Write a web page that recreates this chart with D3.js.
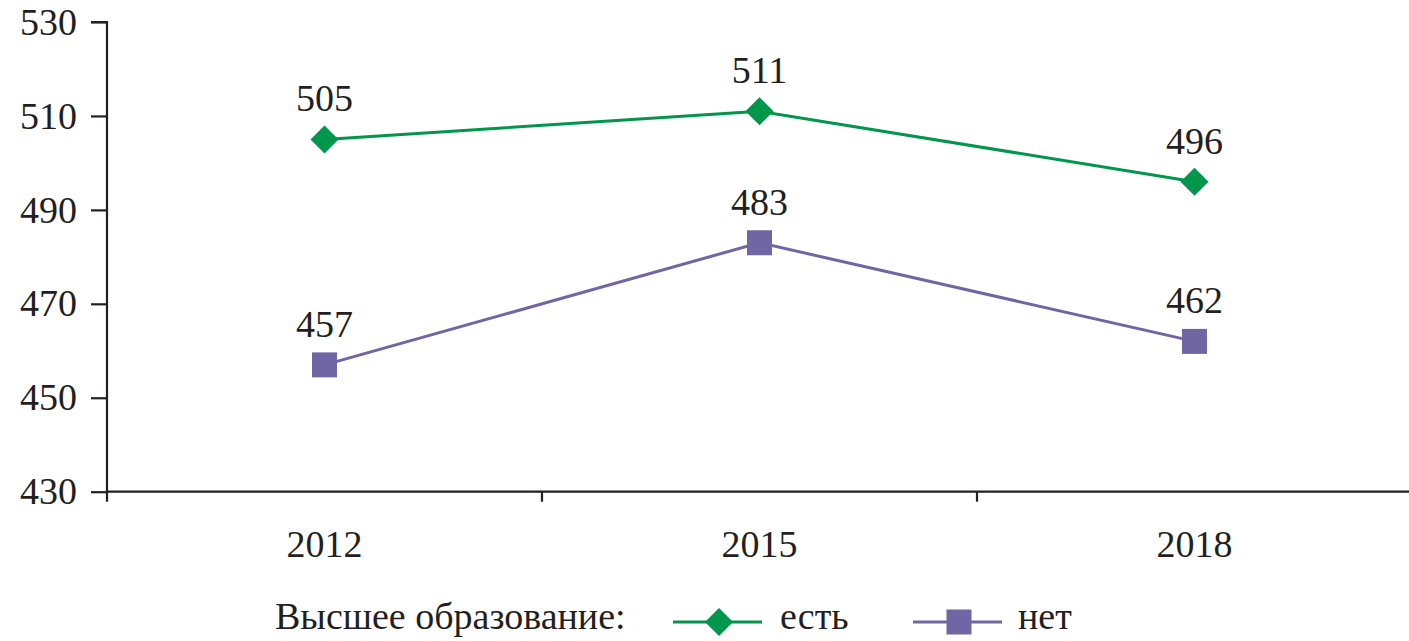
<!DOCTYPE html>
<html><head><meta charset="utf-8">
<script src="https://cdn.jsdelivr.net/npm/d3@7"></script>
<style>
html,body{margin:0;padding:0;background:#fff;}
svg text{font-family:"Liberation Serif","Times New Roman",Times,"DejaVu Serif","Noto Serif",serif !important;}
</style></head>
<body><svg id="c" width="1409" height="641"></svg>
<script>
const categories = ["2012", "2015", "2018"];
const seriesNames = ["есть", "нет"];
const valuesYes = [505, 511, 496];
const valuesNo = [457, 483, 462];
const yTicks = [430, 450, 470, 490, 510, 530];
const legendTitle = "Высшее образование:";

const svg = d3.select("#c");
const ink = "#231f20";
const green = "#00964b";
const purple = "#6f66a3";
const FS = "38px";

const x = d3.scaleBand().domain(categories).range([107, 1412]).paddingInner(0).paddingOuter(0);
const y = d3.scaleLinear().domain([430, 530]).range([491.7, 22]);

// Y axis
const yAxis = d3.axisLeft(y).tickValues(yTicks).tickSize(16).tickPadding(14).tickFormat(d3.format("d"));
const gy = svg.append("g").attr("transform", "translate(107,0)").call(yAxis);
gy.attr("font-family", null).attr("font-size", null);
gy.select(".domain").attr("d", `M-16,${y(530)}H0V${y(430)}`).attr("stroke", ink).attr("stroke-width", 2.2).attr("fill", "none");
gy.selectAll(".tick line").attr("stroke", ink).attr("stroke-width", 2.2);
gy.selectAll(".tick text").attr("fill", ink).style("font-size", FS);

// X axis
const gx = svg.append("g").attr("transform", `translate(0,${y(430)})`);
gx.append("line").attr("x1", 107).attr("x2", 1409).attr("y1", 0).attr("y2", 0).attr("stroke", ink).attr("stroke-width", 2.2);
const bounds = categories.map(c => x(c));
gx.selectAll("line.tk").data(bounds).enter().append("line").attr("class", "tk")
  .attr("x1", d => d).attr("x2", d => d).attr("y1", 0).attr("y2", 10).attr("stroke", ink).attr("stroke-width", 2.2);
gx.selectAll("text").data(categories).enter().append("text")
  .attr("x", d => x(d) + x.bandwidth() / 2).attr("y", 65)
  .attr("text-anchor", "middle").attr("fill", ink).style("font-size", FS).text(d => d);

const cx = d => x(d) + x.bandwidth() / 2;
const line = d3.line().x(d => cx(d.c)).y(d => y(d.v));

const series = [
  { name: seriesNames[0], vals: valuesYes, color: green, shape: "diamond" },
  { name: seriesNames[1], vals: valuesNo, color: purple, shape: "square" }
];

function drawMarker(g, shape, color) {
  if (shape === "diamond") {
    g.append("path").attr("d", "M0,-14L14,0L0,14L-14,0Z").attr("fill", color);
  } else {
    g.append("rect").attr("x", -12.5).attr("y", -12.5).attr("width", 25).attr("height", 25).attr("fill", color);
  }
}

series.forEach(s => {
  const pts = categories.map((c, i) => ({ c, v: s.vals[i] }));
  svg.append("path").datum(pts).attr("d", line).attr("fill", "none").attr("stroke", s.color).attr("stroke-width", 3);
  pts.forEach(p => {
    const g = svg.append("g").attr("transform", `translate(${cx(p.c)},${y(p.v)})`);
    drawMarker(g, s.shape, s.color);
    svg.append("text").attr("x", cx(p.c)).attr("y", y(p.v) - 28).attr("text-anchor", "middle")
      .attr("fill", ink).style("font-size", FS).text(p.v);
  });
});

// Legend
const ly = 622;
svg.append("text").attr("x", 275).attr("y", 629).attr("fill", ink).style("font-size", FS).text(legendTitle);
const legendItems = [
  { s: series[0], x0: 673, tx: 780 },
  { s: series[1], x0: 913, tx: 1018 }
];
legendItems.forEach(li => {
  svg.append("line").attr("x1", li.x0).attr("x2", li.x0 + 89).attr("y1", ly).attr("y2", ly).attr("stroke", li.s.color).attr("stroke-width", 3);
  const g = svg.append("g").attr("transform", `translate(${li.x0 + 46},${ly})`);
  drawMarker(g, li.s.shape, li.s.color);
  svg.append("text").attr("x", li.tx).attr("y", 629).attr("fill", ink).style("font-size", FS).text(li.s.name);
});
</script></body></html>
